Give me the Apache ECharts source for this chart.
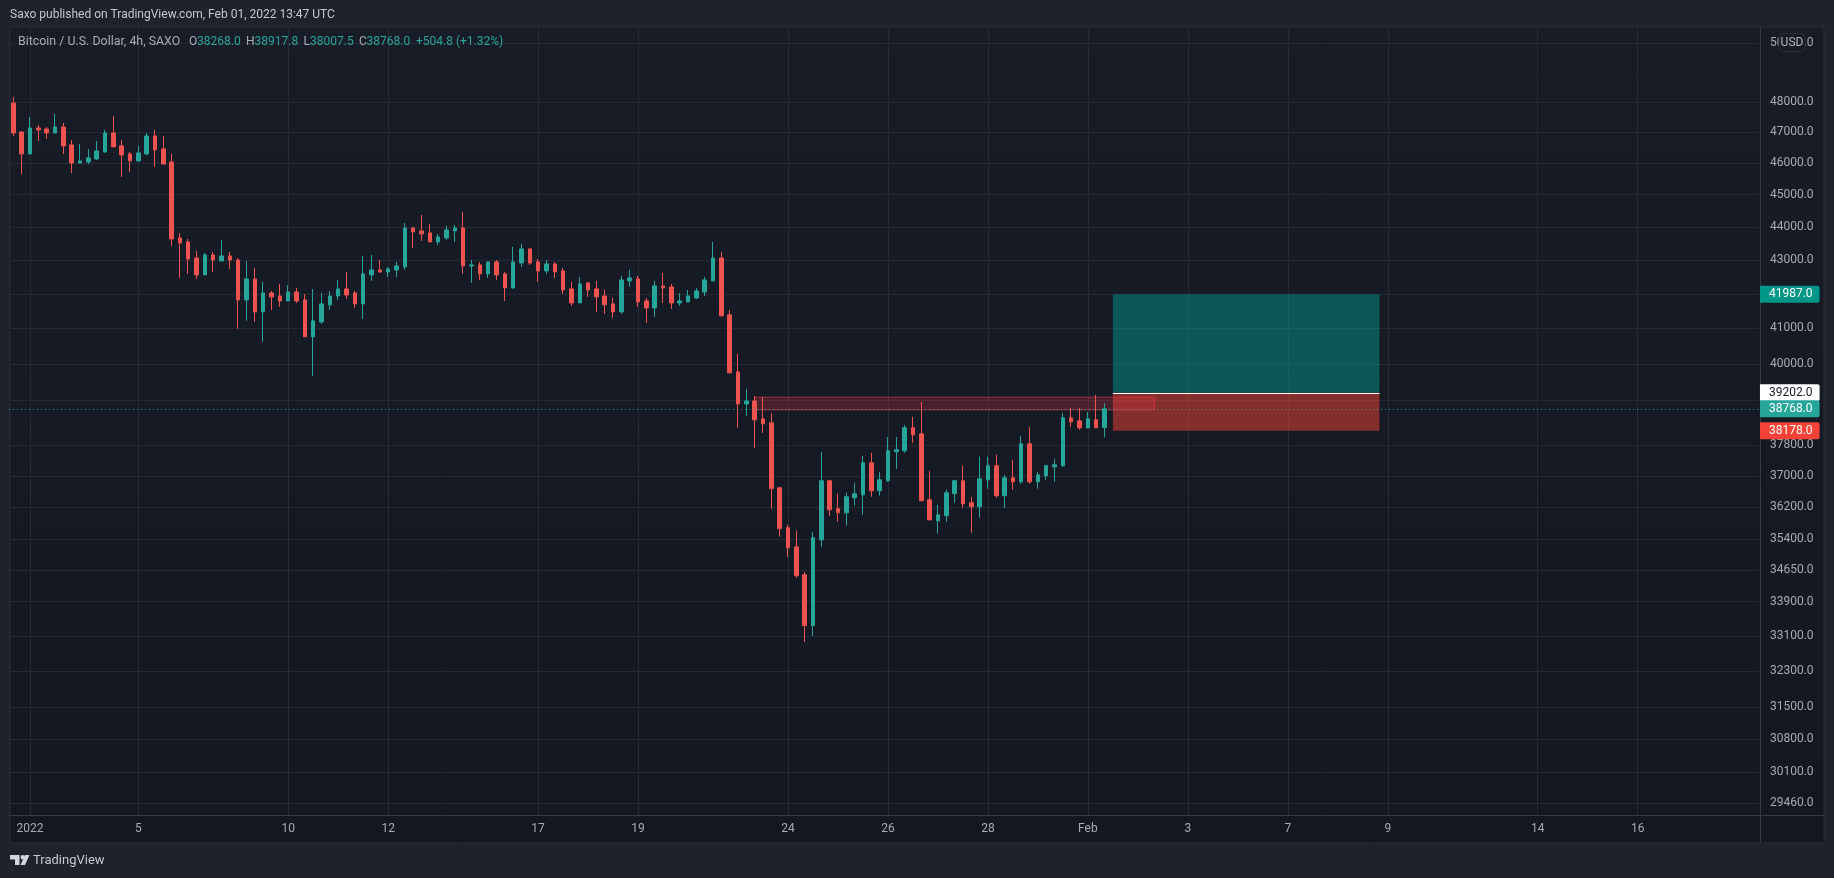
<!DOCTYPE html>
<html>
<head>
<meta charset="utf-8">
<style>
  html, body { margin: 0; height: 100%; background: #1e222d; }
  #chart { width: 1834px; height: 878px; }
</style>
<script src="https://cdn.jsdelivr.net/npm/echarts@6/dist/echarts.min.js"></script>
</head>
<body>
<div id="chart"></div>
<script>
// 4h bars, weekends skipped
const opens = [
  47967,47007,46295,47139,47106,46975,47172,46586,46003,46036,
  46133,46360,46975,46554,46295,46068,46295,46878,46457,46036,
  43667,43545,43061,42556,43152,42971,43121,43000,41821,42438,
  41475,42024,41936,41792,42053,41821,40761,41187,41677,41936,
  42142,42024,41706,42556,42704,42645,42704,42793,43970,43879,
  43818,43545,43667,43879,43970,42823,42852,42586,42941,42586,
  42172,42912,43333,42941,42675,42882,42675,42142,41734,42320,
  42142,41936,41706,41475,42379,42438,41792,41590,42231,42201,
  41734,41763,41878,42053,42379,43061,41389,39778,38900,38980,
  38499,38393,36696,35689,35218,34540,33340,35392,36874,36163,
  36061,36442,36518,37339,36620,36874,37626,37653,38259,38099,
  36391,35863,35987,36544,36874,36315,36213,36899,37261,36493,
  36950,36848,37835,36848,37001,37235,37261,38526,38446,38259,38473,38268
];
const highs = [
  48168,47040,47503,47238,47172,47603,47305,46748,46619,46457,
  46716,47073,47537,46748,46360,46554,46975,47073,46878,46295,
  43818,43636,43273,43212,43242,43606,43242,43061,42971,42764,
  42349,42083,42290,42260,42172,41994,42142,42024,42083,42408,
  42645,42083,43121,43152,43000,42793,42941,44124,44000,44372,
  44093,43788,44031,44062,44465,43000,42941,42941,43000,42645,
  43394,43485,43333,43030,43000,42941,42764,42349,42497,42349,
  42379,42112,41878,42527,42704,42527,41878,42379,42616,42290,
  42024,42112,42172,42497,43545,43242,41533,40282,39311,39118,
  39091,38660,36696,35764,35615,34612,35590,37626,36899,36544,
  36569,36823,37522,37600,37104,38019,38019,38339,38553,38953,
  37131,36264,36645,36899,37261,36467,37496,37496,37548,37026,
  37418,38045,38286,37104,37287,37444,38660,38793,38793,38686,39146,38917.8
];
const lows = [
  46878,45654,46295,46716,46781,46975,46295,45686,46003,45970,
  46100,46327,46522,45559,45717,46068,46262,45875,45970,43424,
  42468,42586,42438,42556,42645,42971,42734,40987,41216,41187,
  40620,41533,41619,41792,41734,40761,39671,41130,41533,41821,
  41850,41590,41274,42379,42616,42497,42497,42704,43364,43576,
  43545,43455,43606,43545,42586,42320,42408,42468,42408,41792,
  42142,42793,42852,42349,42586,42468,41994,41648,41734,41907,
  41475,41418,41302,41418,42201,41619,41158,41331,41734,41562,
  41648,41763,41850,41936,42379,41360,39751,38259,38579,37731,
  38125,36163,35466,34972,34468,32963,33103,35218,35987,35838,
  35739,36239,36010,36467,36493,36848,37183,37600,37861,36366,
  35863,35541,35838,36315,36188,35565,35937,36671,36442,36188,
  36645,36798,36798,36671,36899,36848,37235,38286,38206,38233,38259,38007.5
];
const closes = [
  46975,46295,47139,47073,46975,47172,46554,46003,46068,46165,
  46392,46975,46522,46262,46068,46327,46878,46424,45970,43636,
  43515,43030,42556,43152,43000,43121,43000,41821,42438,41475,
  42024,41907,41792,42053,41792,40761,41216,41706,41936,42142,
  41965,41706,42586,42704,42645,42734,42823,43970,43848,43788,
  43545,43697,43909,43970,42823,42852,42586,42941,42556,42172,
  42941,43333,42912,42675,42882,42645,42112,41734,42290,42112,
  41907,41677,41475,42408,42468,41763,41590,42231,42172,41734,
  41792,41936,42083,42408,43061,41360,39751,38900,38980,38473,
  38366,36671,35665,35193,34516,33340,35441,36874,36137,36061,
  36467,36544,37339,36620,36899,37653,37679,38259,38072,36366,
  35888,36010,36569,36874,36290,36213,36925,37261,36493,36950,
  36848,37835,36848,37026,37261,37287,38526,38419,38259,38499,38259,38768
];

const barCount = 210; // bars plus the empty future part of the time scale
const tickBars = [2,15,33,45,63,75,93,105,117,129,141,153,165,183,195];
const tickLabels = ['2022','5','10','12','17','19','24','26','28','Feb','3','7','9','14','16'];
const priceTicks = [
  50000,48000,47000,46000,45000,44000,43000,42000,41000,40000,39000,
  37800,37000,36200,35400,34650,33900,33100,32300,31500,30800,30100,29460
];

const targetPrice = 41987;
const entryPrice = 39202;
const stopPrice = 38178;
const lastPrice = 38768;
const zoneTop = 39084;
const zoneBottom = 38740;

const categories = [];
for (let i = 0; i < barCount; i++) {
  const t = tickBars.indexOf(i);
  categories.push(t >= 0 ? tickLabels[t] : '');
}
const candles = opens.map((o, i) => [o, closes[i], lows[i], highs[i]]);

const UP = '#26a69a', DOWN = '#ef5350';
const FONT = 'Roboto, sans-serif';
const TEXT = '#a8abb4', GRID = '#262a34', LINE = '#363a45';

function tag(price, bg, fg, lineStyle) {
  return {
    yAxis: price,
    lineStyle: lineStyle || {color: 'transparent', width: 0},
    label: {
      show: true, position: 'end', distance: 1.5,
      formatter: price.toFixed(1),
      backgroundColor: bg, color: fg,
      fontFamily: FONT, fontSize: 12, lineHeight: 13,
      padding: [2, 7, 2, 9], borderRadius: [0, 2, 2, 0]
    }
  };
}

function txt(x, y, text, fill, extra) {
  return {
    type: 'text', x, y, z: 20, silent: true,
    style: Object.assign({text, fill, font: '12px ' + FONT, textVerticalAlign: 'middle'}, extra || {})
  };
}

const chart = echarts.init(document.getElementById('chart'));
chart.setOption({
  animation: false,
  backgroundColor: '#1e222d',
  grid: {left: 9.15, top: 27.5, width: 1749.3, height: 787.8},
  xAxis: {
    type: 'category',
    data: categories,
    boundaryGap: true,
    axisLine: {lineStyle: {color: LINE}},
    axisTick: {show: false},
    axisLabel: {
      color: TEXT, fontFamily: FONT, fontSize: 12, margin: 8,
      interval: i => tickBars.indexOf(i) >= 0,
      hideOverlap: false
    },
    splitLine: {
      show: true, alignWithLabel: true,
      lineStyle: {color: GRID},
      interval: i => tickBars.indexOf(i) >= 0
    }
  },
  yAxis: {
    type: 'log',
    position: 'right',
    offset: 1.5,
    min: 29215,
    max: 50553,
    axisLine: {show: true, lineStyle: {color: LINE}},
    axisTick: {show: false, customValues: priceTicks},
    axisLabel: {
      color: TEXT, fontFamily: FONT, fontSize: 12, margin: 10,
      customValues: priceTicks,
      formatter: v => v.toFixed(1)
    },
    splitLine: {show: true, lineStyle: {color: GRID}}
  },
  series: [{
    type: 'candlestick',
    data: candles,
    barWidth: 4,
    itemStyle: {
      color: UP, color0: DOWN,
      borderColor: UP, borderColor0: DOWN,
      borderWidth: 1
    },
    markArea: {
      silent: true,
      data: [
        [{xAxis: 132, yAxis: targetPrice, itemStyle: {color: 'rgba(0,150,136,0.5)'}}, {xAxis: 164, yAxis: entryPrice}],
        [{xAxis: 132, yAxis: entryPrice, itemStyle: {color: 'rgba(244,67,54,0.5)'}}, {xAxis: 164, yAxis: stopPrice}],
        [{
          xAxis: 89, yAxis: zoneTop,
          itemStyle: {color: 'rgba(242,54,69,0.23)', borderColor: 'rgba(242,54,69,0.6)', borderWidth: 1}
        }, {xAxis: 137, yAxis: zoneBottom}]
      ]
    },
    markLine: {
      silent: true,
      symbol: 'none',
      data: [
        tag(targetPrice, '#009688', '#ffffff'),
        tag(entryPrice, '#ffffff', '#131722'),
        tag(stopPrice, '#f44336', '#ffffff'),
        tag(lastPrice, UP, '#ffffff', {color: UP, type: [1, 3], width: 1}),
        [{coord: [132, entryPrice], lineStyle: {color: '#ffffff', type: 'solid', width: 1}, label: {show: false}},
         {coord: [164, entryPrice]}]
      ]
    }
  }],
  graphic: [
    // pane behind the chart
    {
      type: 'rect', z: -1, silent: true,
      shape: {x: 10, y: 27, width: 1814, height: 816},
      style: {
        fill: new echarts.graphic.LinearGradient(0, 0, 0, 1, [
          {offset: 0, color: '#181c27'}, {offset: 1, color: '#131722'}
        ]),
        stroke: '#2a2e39', lineWidth: 1
      }
    },
    {type: 'line', z: 3, silent: true, shape: {x1: 1760.5, y1: 815.5, x2: 1760.5, y2: 843}, style: {stroke: LINE}},
    {type: 'line', z: 3, silent: true, shape: {x1: 1758, y1: 815.5, x2: 1824, y2: 815.5}, style: {stroke: LINE}},

    txt(10, 15, 'Saxo published on TradingView.com, Feb 01, 2022 13:47 UTC', '#c4c7cf'),

    txt(18, 42, 'Bitcoin / U.S. Dollar, 4h, SAXO', TEXT, {font: '12.4px ' + FONT}),
    txt(189, 42, 'O', TEXT), txt(197, 42, '38268.0', UP),
    txt(246, 42, 'H', TEXT), txt(254.5, 42, '38917.8', UP),
    txt(303.5, 42, 'L', TEXT), txt(310, 42, '38007.5', UP),
    txt(359, 42, 'C', TEXT), txt(366.5, 42, '38768.0', UP),
    txt(416, 42, '+504.8 (+1.32%)', UP),

    // currency button
    {
      type: 'rect', z: 20, silent: true,
      shape: {x: 1779, y: 33.5, width: 26, height: 18, r: 4},
      style: {fill: '#171b26', stroke: '#2a2e39', lineWidth: 1}
    },
    txt(1792, 42.5, 'USD', '#b2b5be', {textAlign: 'center'}),

    // TradingView logo
    {
      type: 'polygon', z: 20, silent: true,
      shape: {points: [[10, 855], [19.5, 855], [19.5, 865], [15, 865], [15, 859.5], [10, 859.5]]},
      style: {fill: '#d1d4dc'}
    },
    {type: 'circle', z: 20, silent: true, shape: {cx: 22.7, cy: 857.2, r: 2.2}, style: {fill: '#d1d4dc'}},
    {
      type: 'polygon', z: 20, silent: true,
      shape: {points: [[25, 855], [29.5, 855], [25, 865], [20.5, 865]]},
      style: {fill: '#d1d4dc'}
    },
    txt(33, 860.5, 'TradingView', '#c4c7cf', {font: '13px ' + FONT})
  ]
});
</script>
</body>
</html>
